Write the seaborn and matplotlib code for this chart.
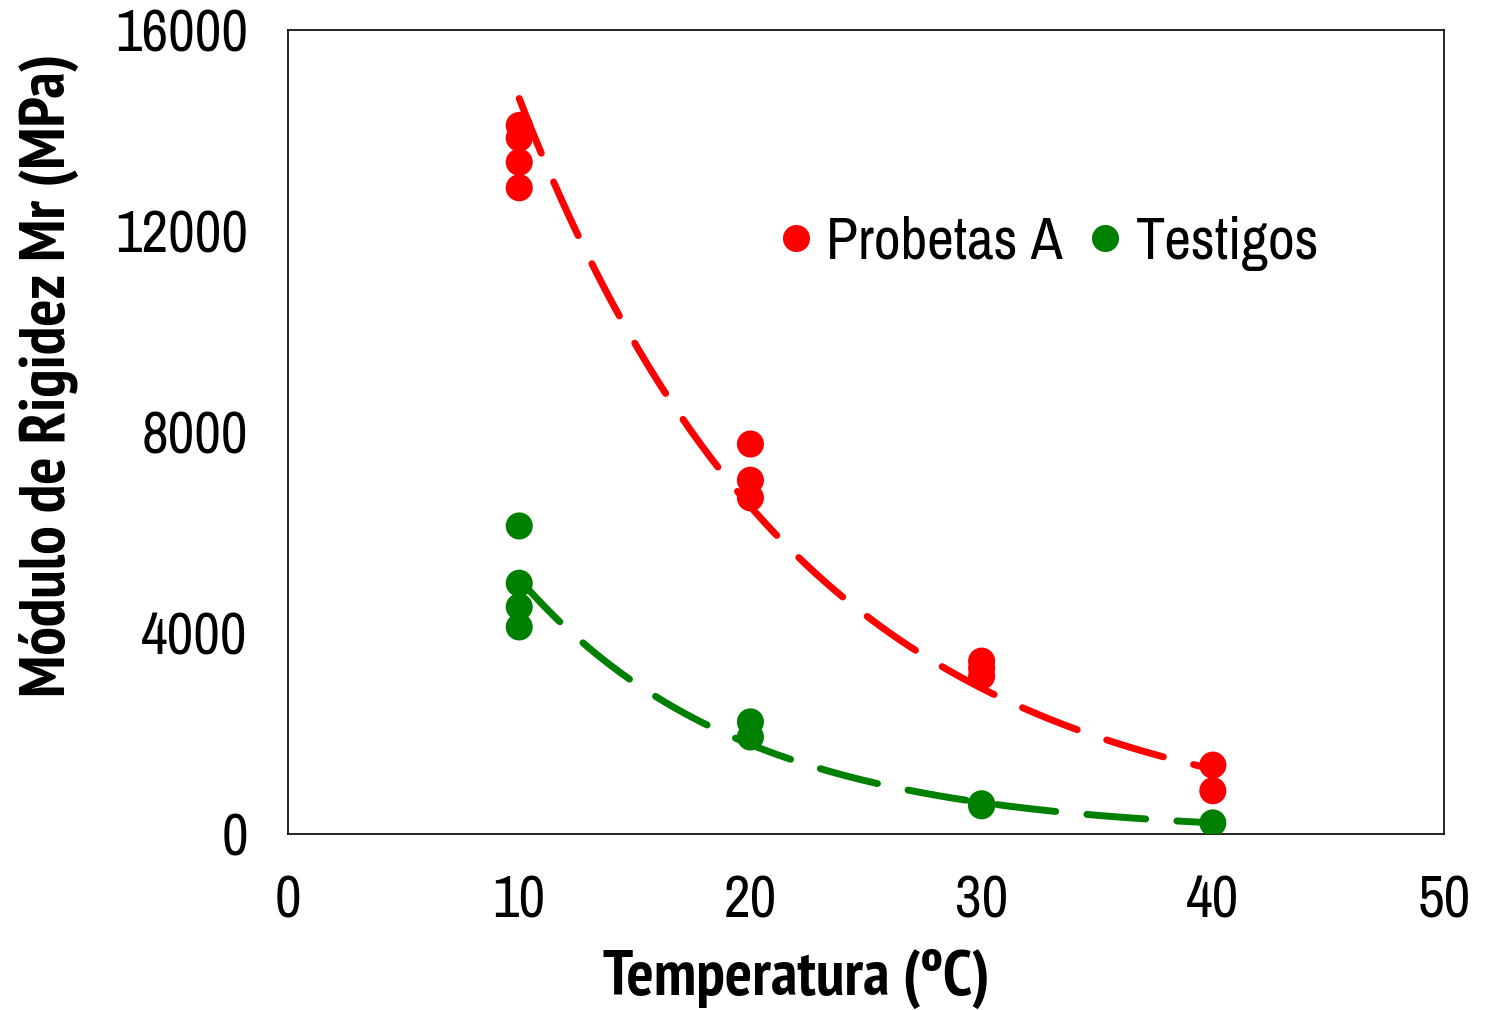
import numpy as np
import pandas as pd
import matplotlib
matplotlib.use("Agg")
import matplotlib.pyplot as plt
import seaborn as sns
from matplotlib import font_manager

# Resilient modulus readings (MPa) at each test temperature (ºC)
temp_probetas = [10, 10, 10, 10, 20, 20, 20, 30, 30, 30, 40, 40]
mr_probetas = [14100, 13850, 13370, 12860, 7760, 7040, 6690, 3440, 3300, 3140, 1370, 860]

temp_testigos = [10, 10, 10, 10, 20, 20, 30, 30, 40]
mr_testigos = [6130, 4990, 4520, 4120, 2230, 1930, 600, 560, 220]

series_names = ["Probetas A", "Testigos"]
series_colors = ["#ff0000", "#008000"]

x_ticks = [0, 10, 20, 30, 40, 50]
y_ticks = [0, 4000, 8000, 12000, 16000]

sns.set_style("white")
fonts = font_manager.fontManager.ttflist
available = {f.name for f in fonts}
bold_available = {f.name for f in fonts if int(f.weight) >= 700 if isinstance(f.weight, int)} | \
    {f.name for f in fonts if f.weight == "bold"}
preferred = ["Liberation Sans Narrow", "Arial Narrow", "Archivo Narrow", "PT Sans Narrow",
             "Roboto Condensed", "Pragati Narrow", "Sofia Sans Condensed", "DejaVu Sans"]
narrow = next(f for f in preferred if f in available)
narrow_bold = next(f for f in preferred if f in bold_available)
plt.rcParams["font.family"] = [narrow, "DejaVu Sans"]
plt.rcParams["text.color"] = "black"
plt.rcParams["axes.labelcolor"] = "black"
plt.rcParams["xtick.color"] = "black"
plt.rcParams["ytick.color"] = "black"

df = pd.DataFrame({
    "Temperatura": temp_probetas + temp_testigos,
    "Mr": mr_probetas + mr_testigos,
    "Serie": [series_names[0]] * len(temp_probetas) + [series_names[1]] * len(temp_testigos),
})

fig = plt.figure(figsize=(14.87, 10.10), dpi=100)
ax = fig.add_axes([0.1937, 0.1743, 0.7774, 0.7960])

# Exponential trend lines fitted on log(Mr)
for name, color, xs, ys in [
    (series_names[0], series_colors[0], temp_probetas, mr_probetas),
    (series_names[1], series_colors[1], temp_testigos, mr_testigos),
]:
    b, a = np.polyfit(np.array(xs, float), np.log(np.array(ys, float)), 1)
    xx = np.linspace(min(xs), max(xs), 200)
    yy = np.exp(a + b * xx)
    ax.plot(xx, yy, color=color, lw=5, dashes=(8.5, 4.5), solid_capstyle="round",
            dash_capstyle="round", zorder=2)

sns.scatterplot(data=df, x="Temperatura", y="Mr", hue="Serie",
                palette=dict(zip(series_names, series_colors)),
                s=380, linewidth=0, ax=ax, zorder=3)

ax.set_xlim(0, 50)
ax.set_ylim(0, 16000)
ax.set_xticks(x_ticks)
ax.set_yticks(y_ticks)
ax.tick_params(axis="both", direction="out", length=7, width=1.2, color="black",
               labelsize=42, pad=22)
for s in ax.spines.values():
    s.set_color("black")
    s.set_linewidth(1.2)

label_font = [narrow_bold, "DejaVu Sans"]
ax.set_xlabel("Temperatura (ºC)", fontsize=46, fontweight="bold", family=label_font,
              va="center", ha="center")
ax.xaxis.set_label_coords(0.44, -0.180)
ax.set_ylabel("Módulo de Rigidez Mr (MPa)", fontsize=46, fontweight="bold", family=label_font,
              va="center", ha="center")
ax.yaxis.set_label_coords(-0.207, 0.571)

leg = ax.legend(loc="center", bbox_to_anchor=(0.653, 0.735), ncol=2, frameon=False,
                fontsize=42, handlelength=1.0, handletextpad=0.03, columnspacing=0.22,
                markerscale=1.0, borderaxespad=0)
for h in leg.legend_handles:
    if hasattr(h, "set_sizes"):
        h.set_sizes([380])
    else:
        h.set_markersize(19.5)
        h.set_markeredgewidth(0)

fig.savefig("out.png", dpi=100)
